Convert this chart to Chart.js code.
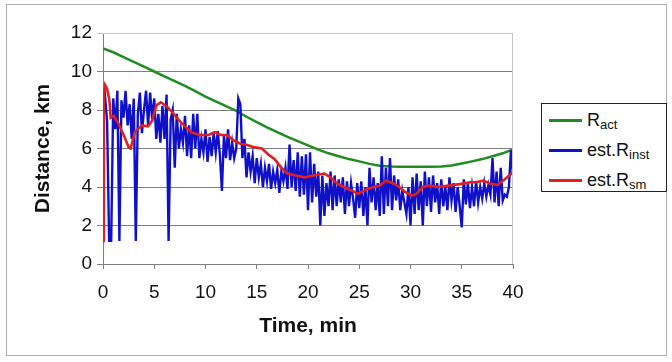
<!DOCTYPE html>
<html>
<head>
<meta charset="utf-8">
<script src="https://cdn.jsdelivr.net/npm/chart.js@4.4.1/dist/chart.umd.min.js"></script>
<style>
  html, body { margin: 0; padding: 0; background: #fff; }
  #wrap { position: relative; width: 672px; height: 362px; }
  #frame { position: absolute; left: 6px; top: 4px; width: 661px; height: 352px; border: 1px solid #b0b0b0; box-sizing: border-box; pointer-events: none; }
  #legend { position: absolute; left: 541px; top: 103px; width: 126px; height: 89px; border: 1px solid #222; box-sizing: border-box; background: #fff;
            font-family: "Liberation Sans", Arial, sans-serif; font-size: 18px; color: #111; }
  .row { position: absolute; left: 7px; height: 20px; display: flex; align-items: center; }
  .sw { width: 33px; height: 3px; margin-right: 5px; }
  sub { font-size: 13px; vertical-align: -3px; line-height: 0; }
</style>
</head>
<body>
<div id="wrap">
  <canvas id="c" width="672" height="362"></canvas>
  <div id="frame"></div>
  <div id="legend">
    <div class="row" style="top:6px"><div class="sw" style="background:#228b22"></div><span>R<sub>act</sub></span></div>
    <div class="row" style="top:36px"><div class="sw" style="background:#1010c8"></div><span>est.R<sub>inst</sub></span></div>
    <div class="row" style="top:66px"><div class="sw" style="background:#e02020"></div><span>est.R<sub>sm</sub></span></div>
  </div>
</div>
<script>
// ---- data ----
const seriesNames = ["Ract", "est.Rinst", "est.Rsm"];
const xTicks = [0, 5, 10, 15, 20, 25, 30, 35, 40];
const yTicks = [0, 2, 4, 6, 8, 10, 12];

const tAct = [0,1,2,3,4,5,6,7,8,9,10,11,12,13,14,15,16,17,18,19,20,21,22,23,24,25,26,27,28,29,30,31,32,33,34,35,36,37,38,39,40];
const rAct = [11.2,11.0,10.75,10.5,10.25,10.0,9.75,9.5,9.25,8.98,8.7,8.45,8.2,7.95,7.65,7.37,7.1,6.85,6.6,6.38,6.16,5.94,5.75,5.6,5.45,5.33,5.2,5.1,5.06,5.05,5.05,5.05,5.05,5.06,5.12,5.22,5.33,5.45,5.6,5.75,5.95];

const tInst = [0,0.2,0.4,0.6,0.8,1,1.2,1.4,1.6,1.8,2,2.2,2.4,2.6,2.8,3,3.2,3.4,3.6,3.8,4,4.2,4.4,4.6,4.8,5,5.2,5.4,5.6,5.8,6,6.2,6.4,6.6,6.8,7,7.2,7.4,7.6,7.8,8,8.2,8.4,8.6,8.8,9,9.2,9.4,9.6,9.8,10,10.2,10.4,10.6,10.8,11,11.2,11.4,11.6,11.8,12,12.2,12.4,12.6,12.8,13,13.2,13.4,13.6,13.8,14,14.2,14.4,14.6,14.8,15,15.2,15.4,15.6,15.8,16,16.2,16.4,16.6,16.8,17,17.2,17.4,17.6,17.8,18,18.2,18.4,18.6,18.8,19,19.2,19.4,19.6,19.8,20,20.2,20.4,20.6,20.8,21,21.2,21.4,21.6,21.8,22,22.2,22.4,22.6,22.8,23,23.2,23.4,23.6,23.8,24,24.2,24.4,24.6,24.8,25,25.2,25.4,25.6,25.8,26,26.2,26.4,26.6,26.8,27,27.2,27.4,27.6,27.8,28,28.2,28.4,28.6,28.8,29,29.2,29.4,29.6,29.8,30,30.2,30.4,30.6,30.8,31,31.2,31.4,31.6,31.8,32,32.2,32.4,32.6,32.8,33,33.2,33.4,33.6,33.8,34,34.2,34.4,34.6,34.8,35,35.2,35.4,35.6,35.8,36,36.2,36.4,36.6,36.8,37,37.2,37.4,37.6,37.8,38,38.2,38.4,38.6,38.8,39,39.2,39.4,39.6,39.8,40];
const rInst = [8.0,8.7,7.4,1.2,1.2,8.6,7.0,9.0,1.2,8.5,7.6,9.0,7.2,8.3,6.5,8.6,1.2,7.8,8.9,6.8,8.0,9.0,7.2,8.9,7.5,8.6,6.5,7.8,6.3,8.2,6.5,8.8,1.2,7.5,8.0,5.0,7.8,6.0,7.0,6.3,7.7,5.6,7.2,5.5,7.8,6.0,7.8,5.5,6.5,5.8,7.0,5.3,6.6,5.6,6.8,5.8,6.9,5.7,3.8,6.7,5.5,7.0,5.4,6.3,5.5,6.0,8.6,8.3,5.5,6.5,4.5,5.8,4.8,5.6,4.2,5.5,4.5,5.2,4.0,5.0,4.3,5.2,3.9,4.8,4.2,4.9,3.7,4.8,4.3,5.0,3.9,6.2,4.0,5.4,3.8,5.8,3.5,5.6,3.6,5.7,2.8,5.8,3.2,5.2,3.5,4.8,2.0,4.6,2.5,4.2,3.0,4.8,2.8,4.6,3.0,4.4,3.2,4.5,2.6,4.3,3.0,4.2,3.4,2.4,4.2,2.9,4.3,2.5,4.0,2.0,5.0,3.2,4.5,2.8,4.2,2.5,5.6,2.6,5.0,3.0,5.5,2.8,4.6,3.3,4.4,2.8,3.8,3.2,2.6,4.0,2.0,4.5,2.6,4.7,2.8,4.3,2.0,4.8,3.0,4.5,2.7,4.6,3.2,4.2,2.6,4.4,3.0,4.0,2.8,4.5,3.3,4.2,2.7,4.0,3.0,1.9,4.4,3.1,4.2,2.9,4.0,3.0,4.3,3.2,4.0,3.4,4.2,3.5,4.1,3.6,5.5,3.2,4.8,3.0,5.0,3.3,3.6,3.5,4.0,5.9,4.6];

const tSm = [0,0.08,0.2,0.4,0.63,0.75,1.05,1.5,2.1,2.5,2.7,3.1,3.8,4.4,4.8,5.2,5.65,6.3,6.9,7.7,8.6,9.4,10.3,10.9,11.5,12.1,12.8,13.4,14,14.7,15.5,16.1,16.75,17.4,18,18.8,19.7,20.5,21.6,22.2,22.8,23.5,24.1,24.9,25.8,26.4,27,27.6,28.3,28.9,29.5,30.2,30.6,31.2,31.8,32.7,33.7,34.8,35.8,36.4,37.1,37.7,38.5,39.2,40];
const rSm = [1.2,8.8,9.3,9.1,8.5,7.6,7.7,7.3,6.6,6.07,6.0,6.85,7.2,7.15,7.45,8.24,8.4,8.15,7.8,7.3,6.85,6.7,6.7,6.85,6.7,6.7,6.4,6.25,6.2,6.07,6.0,5.7,5.45,5.0,4.7,4.6,4.5,4.6,4.7,4.5,4.2,4.0,3.85,3.65,3.9,4.0,4.07,4.33,4.2,4.0,3.73,3.55,3.65,4.0,4.07,4.0,4.07,4.15,4.25,4.25,4.33,4.2,4.1,4.4,4.77];

const xy = (ts, vs) => ts.map((t, i) => ({ x: t, y: vs[i] }));

const plotFrame = {
  id: 'plotFrame',
  afterDatasetsDraw(chart) {
    const a = chart.chartArea, ctx = chart.ctx;
    ctx.save();
    ctx.strokeStyle = '#c4c4c4';
    ctx.lineWidth = 1;
    ctx.beginPath();
    ctx.moveTo(a.left, a.top + 0.5);
    ctx.lineTo(a.right - 0.5, a.top + 0.5);
    ctx.lineTo(a.right - 0.5, a.bottom);
    ctx.stroke();
    ctx.restore();
  }
};

const font = "'Liberation Sans', Arial, sans-serif";

new Chart(document.getElementById('c'), {
  type: 'line',
  data: {
    datasets: [
      { label: seriesNames[0], data: xy(tAct, rAct), borderColor: '#228b22', borderWidth: 2.5, pointRadius: 0, tension: 0, order: 2 },
      { label: seriesNames[1], data: xy(tInst, rInst), borderColor: '#1010c8', borderWidth: 2.4, pointRadius: 0, tension: 0, order: 1 },
      { label: seriesNames[2], data: xy(tSm, rSm), borderColor: '#e02020', borderWidth: 2.6, pointRadius: 0, tension: 0, order: 0 }
    ]
  },
  options: {
    responsive: false,
    animation: false,
    layout: { padding: { left: 0, right: 159, top: 33, bottom: 0 } },
    plugins: { legend: { display: false }, tooltip: { enabled: false } },
    scales: {
      x: {
        type: 'linear', min: 0, max: 40,
        afterBuildTicks: (s) => { s.ticks = xTicks.map(v => ({ value: v })); },
        afterFit: (s) => { s.height = 98; },
        grid: { drawOnChartArea: false, drawTicks: true, tickLength: 5, color: '#808080' },
        border: { color: '#808080' },
        ticks: { color: '#111', font: { family: font, size: 19 }, padding: 12, maxRotation: 0 },
        title: { display: true, text: 'Time, min', color: '#111', font: { family: font, size: 21, weight: 'bold' }, padding: { top: 0, bottom: 23 } }
      },
      y: {
        min: 0, max: 12,
        afterBuildTicks: (s) => { s.ticks = yTicks.map(v => ({ value: v })); },
        afterFit: (s) => { s.width = 103; },
        grid: { drawTicks: true, tickLength: 6, color: (c) => c.tick && c.tick.value === 12 ? '#c4c4c4' : '#808080' },
        border: { color: '#808080' },
        ticks: { color: '#111', font: { family: font, size: 19 }, padding: 5 },
        title: { display: true, text: 'Distance, km', color: '#111', font: { family: font, size: 21, weight: 'bold' }, padding: { top: 31, bottom: 0 } }
      }
    }
  },
  plugins: [plotFrame]
});
</script>
</body>
</html>
